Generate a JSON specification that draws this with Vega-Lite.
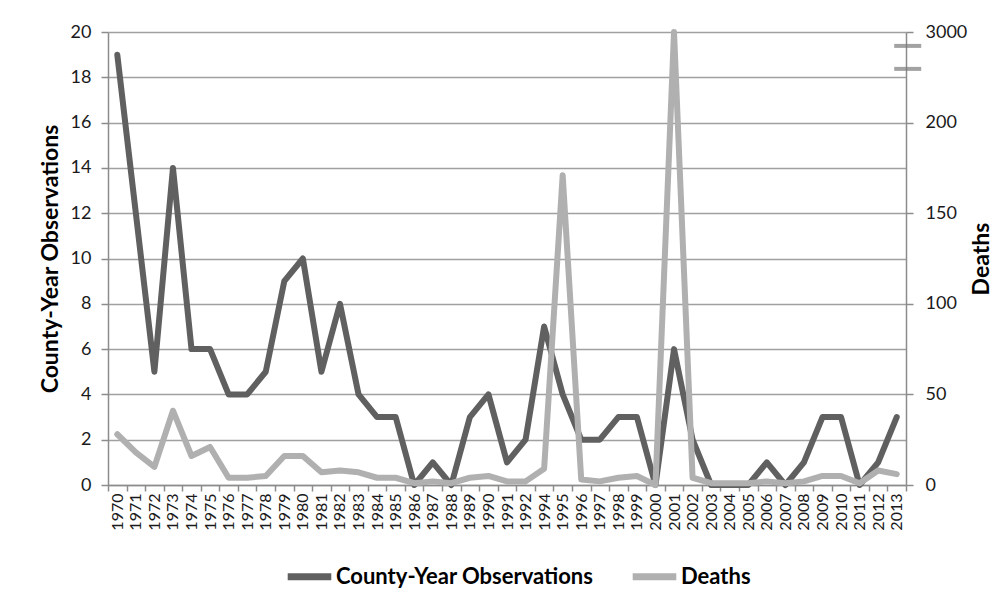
{
  "$schema": "https://vega.github.io/schema/vega-lite/v6.json",
  "width": 798,
  "height": 453,
  "autosize": "none",
  "padding": {"left": 108, "top": 32, "right": 100, "bottom": 116},
  "background": "white",
  "config": {
    "font": "Lato",
    "view": {"stroke": null},
    "axis": {
      "domainColor": "#8c8c8c",
      "tickColor": "#8c8c8c",
      "domainWidth": 1.5,
      "tickWidth": 1.5,
      "labelColor": "#1a1a1a",
      "titleColor": "#000000",
      "labelFont": "Lato",
      "titleFont": "Lato"
    }
  },
  "datasets": {
    "series": [
      {"year": "1970", "observations": 19, "deaths": 28},
      {"year": "1971", "observations": 12, "deaths": 18},
      {"year": "1972", "observations": 5, "deaths": 10},
      {"year": "1973", "observations": 14, "deaths": 41},
      {"year": "1974", "observations": 6, "deaths": 16},
      {"year": "1975", "observations": 6, "deaths": 21},
      {"year": "1976", "observations": 4, "deaths": 4},
      {"year": "1977", "observations": 4, "deaths": 4},
      {"year": "1978", "observations": 5, "deaths": 5},
      {"year": "1979", "observations": 9, "deaths": 16},
      {"year": "1980", "observations": 10, "deaths": 16},
      {"year": "1981", "observations": 5, "deaths": 7},
      {"year": "1982", "observations": 8, "deaths": 8},
      {"year": "1983", "observations": 4, "deaths": 7},
      {"year": "1984", "observations": 3, "deaths": 4},
      {"year": "1985", "observations": 3, "deaths": 4},
      {"year": "1986", "observations": 0, "deaths": 1},
      {"year": "1987", "observations": 1, "deaths": 2},
      {"year": "1988", "observations": 0, "deaths": 1},
      {"year": "1989", "observations": 3, "deaths": 4},
      {"year": "1990", "observations": 4, "deaths": 5},
      {"year": "1991", "observations": 1, "deaths": 2},
      {"year": "1992", "observations": 2, "deaths": 2},
      {"year": "1994", "observations": 7, "deaths": 9},
      {"year": "1995", "observations": 4, "deaths": 171},
      {"year": "1996", "observations": 2, "deaths": 3},
      {"year": "1997", "observations": 2, "deaths": 2},
      {"year": "1998", "observations": 3, "deaths": 4},
      {"year": "1999", "observations": 3, "deaths": 5},
      {"year": "2000", "observations": 0, "deaths": 0},
      {"year": "2001", "observations": 6, "deaths": 3000},
      {"year": "2002", "observations": 2, "deaths": 4},
      {"year": "2003", "observations": 0, "deaths": 1},
      {"year": "2004", "observations": 0, "deaths": 1},
      {"year": "2005", "observations": 0, "deaths": 1},
      {"year": "2006", "observations": 1, "deaths": 2},
      {"year": "2007", "observations": 0, "deaths": 1},
      {"year": "2008", "observations": 1, "deaths": 2},
      {"year": "2009", "observations": 3, "deaths": 5},
      {"year": "2010", "observations": 3, "deaths": 5},
      {"year": "2011", "observations": 0, "deaths": 1},
      {"year": "2012", "observations": 1, "deaths": 8},
      {"year": "2013", "observations": 3, "deaths": 6}
    ],
    "breaks": [
      {"year": "2013", "deaths": 2570},
      {"year": "2013", "deaths": 1860}
    ]
  },
  "layer": [
    {
      "data": {"name": "series"},
      "mark": {"type": "line", "strokeWidth": 6, "strokeCap": "round", "strokeJoin": "round"},
      "encoding": {
        "x": {
          "field": "year",
          "type": "ordinal",
          "bandPosition": 0.5,
          "scale": {"type": "band", "paddingInner": 0, "paddingOuter": 0},
          "axis": {
            "title": null,
            "labelAngle": 270,
            "tickBand": "extent",
            "grid": false,
            "tickSize": 6,
            "labelFontSize": 16,
            "labelPadding": 2
          }
        },
        "y": {
          "field": "observations",
          "type": "quantitative",
          "scale": {"domain": [0, 20], "nice": false},
          "axis": {
            "title": "County-Year Observations",
            "titleFontSize": 23,
            "titleFontWeight": "bold",
            "titlePadding": 8,
            "values": [0, 2, 4, 6, 8, 10, 12, 14, 16, 18, 20],
            "grid": true,
            "gridColor": "#a0a0a0",
            "gridWidth": 1.5,
            "tickSize": 7,
            "labelFontSize": 18,
            "labelPadding": 10
          }
        },
        "color": {
          "datum": "County-Year Observations",
          "type": "nominal",
          "scale": {"domain": ["County-Year Observations", "Deaths"], "range": ["#606060", "#b0b0b0"]},
          "legend": {
            "title": null,
            "orient": "none",
            "direction": "horizontal",
            "legendX": 176,
            "legendY": 519,
            "symbolType": "stroke",
            "symbolStrokeWidth": 7,
            "symbolSize": 1900,
            "labelFontSize": 22,
            "labelFontWeight": "bold",
            "labelColor": "#000000",
            "labelLimit": 0,
            "labelOffset": 1,
            "columnPadding": 24
          }
        }
      }
    },
    {
      "layer": [
        {
          "data": {"name": "series"},
          "mark": {"type": "line", "strokeWidth": 6, "strokeCap": "round", "strokeJoin": "round"},
          "encoding": {
            "x": {"field": "year", "type": "ordinal", "bandPosition": 0.5},
            "y": {
              "field": "deaths",
              "type": "quantitative",
              "scale": {"domain": [0, 200, 3000], "range": [453, 90.6, 0], "nice": false, "zero": false},
              "axis": {
                "orient": "right",
                "title": "Deaths",
                "titleAngle": 270,
                "titleFontSize": 23,
                "titleFontWeight": "bold",
                "titlePadding": 27,
                "values": [0, 50, 100, 150, 200, 3000],
                "format": "d",
                "grid": false,
                "tickSize": 7,
                "labelFontSize": 18,
                "labelPadding": 12
              }
            },
            "color": {"datum": "Deaths", "type": "nominal"}
          }
        },
        {
          "data": {"name": "breaks"},
          "mark": {"type": "tick", "orient": "horizontal", "thickness": 4, "size": 27, "color": "#7a7a7a", "xOffset": 11},
          "encoding": {
            "x": {"field": "year", "type": "ordinal"},
            "y": {"field": "deaths", "type": "quantitative", "title": "Deaths"}
          }
        }
      ]
    }
  ],
  "resolve": {"scale": {"y": "independent"}}
}
